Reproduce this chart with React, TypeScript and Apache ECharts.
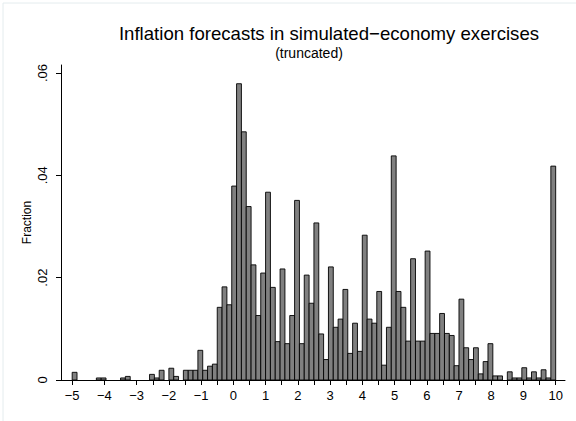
import React, { useEffect, useRef } from 'react';
import * as echarts from 'echarts';

const titleText = 'Inflation forecasts in simulated\u2212economy exercises';
const subtitleText = '(truncated)';
const yTitle = 'Fraction';

const binStart = -5;
const binWidth = 0.15;
const fractions = [
  0.0015, 0, 0, 0, 0, 0.0004, 0.0004, 0, 0, 0,
  0.0004, 0.0007, 0, 0, 0, 0, 0.0011, 0.0004, 0.0019, 0,
  0.0023, 0.0007, 0, 0.0019, 0.0019, 0.0019, 0.0058, 0.0019, 0.0027, 0.0031,
  0.0142, 0.0182, 0.0147, 0.0379, 0.0579, 0.0485, 0.0339, 0.0225, 0.0126, 0.0209,
  0.0367, 0.0181, 0.0075, 0.0217, 0.0071, 0.0126, 0.0351, 0.0071, 0.0205, 0.015,
  0.0307, 0.009, 0.004, 0.0221, 0.0103, 0.0119, 0.0177, 0.0052, 0.0111, 0.0056,
  0.0283, 0.0119, 0.0111, 0.0173, 0.0029, 0.0103, 0.0438, 0.0173, 0.0142, 0.0076,
  0.0237, 0.0076, 0.0076, 0.0252, 0.0091, 0.0091, 0.013, 0.0091, 0.0087, 0.0028,
  0.0158, 0.0063, 0.004, 0.0063, 0.0012, 0.0036, 0.0071, 0.0008, 0.0008, 0,
  0.0016, 0.0004, 0.0004, 0.0024, 0.0004, 0.0016, 0.0004, 0.002, 0.0004, 0.0418,
];

const xMajorTicks = [-5, -4, -3, -2, -1, 0, 1, 2, 3, 4, 5, 6, 7, 8, 9, 10];
const xMinorTicks = [-2.5, -1.5, -0.5, 0.5, 1.5, 2.5, 3.5, 4.5, 5.5, 6.5, 7.5, 8.5, 9.5];
const yTicks = [0, 0.02, 0.04, 0.06];

const FONT = "'Liberation Sans', Arial, Helvetica, sans-serif";

export default function App() {
  const ref = useRef<HTMLDivElement>(null);
  useEffect(() => {
    const chart = echarts.init(ref.current as HTMLDivElement, null, { renderer: 'svg' });
    const data = fractions.map((f, i) => [
      binStart + i * binWidth,
      binStart + (i + 1) * binWidth,
      f,
    ]);
    chart.setOption({
      animation: false,
      backgroundColor: '#ffffff',
      title: [
        {
          text: titleText,
          left: 324,
          top: 19,
          textAlign: 'center',
          textStyle: { fontFamily: FONT, fontSize: 18.6, fontWeight: 'normal', color: '#000' },
        },
        {
          text: subtitleText,
          left: 304,
          top: 41,
          textAlign: 'center',
          textStyle: { fontFamily: FONT, fontSize: 14, fontWeight: 'normal', color: '#000' },
        },
      ],
      graphic: [
        { type: 'line', shape: { x1: 3, y1: 3, x2: 3, y2: 421 }, style: { stroke: '#e4ecee', lineWidth: 1 } },
        { type: 'line', shape: { x1: 3, y1: 3, x2: 576, y2: 3 }, style: { stroke: '#e4ecee', lineWidth: 1 } },
      ],
      grid: { left: 61, right: 11, top: 65, bottom: 41 },
      xAxis: {
        type: 'value',
        min: -5.347,
        max: 10.289,
        splitLine: { show: false },
        axisLine: { show: true, onZero: false, lineStyle: { color: '#000', width: 1 } },
        axisTick: {
          show: true,
          length: 5,
          lineStyle: { color: '#000', width: 1 },
          customValues: [...xMajorTicks, ...xMinorTicks],
        },
        axisLabel: {
          customValues: xMajorTicks,
          margin: 9,
          fontFamily: FONT,
          fontSize: 13,
          color: '#000',
          formatter: (v: number) => String(v).replace('-', '\u2212'),
        },
      },
      yAxis: {
        type: 'value',
        min: 0,
        max: 0.06156,
        name: yTitle,
        nameLocation: 'middle',
        nameRotate: 90,
        nameGap: 28,
        nameMoveOverlap: false,
        nameTextStyle: { fontFamily: FONT, fontSize: 12, color: '#000' },
        splitLine: { show: false },
        axisLine: { show: true, onZero: false, lineStyle: { color: '#000', width: 1 } },
        axisTick: {
          show: true,
          length: 5,
          lineStyle: { color: '#000', width: 1 },
          customValues: yTicks,
        },
        axisLabel: {
          customValues: yTicks,
          rotate: 90,
          margin: 12,
          fontFamily: FONT,
          fontSize: 13,
          color: '#000',
          formatter: (v: number) => (v === 0 ? '0' : v.toFixed(2).replace(/^0/, '')),
        },
      },
      series: [
        {
          type: 'custom',
          data,
          encode: { x: [0, 1], y: 2 },
          renderItem: (params: any, api: any) => {
            const x0 = api.value(0);
            const x1 = api.value(1);
            const y = api.value(2);
            if (!y) return null;
            const pTop = api.coord([x0, y]);
            const pBot = api.coord([x1, 0]);
            return {
              type: 'rect',
              shape: {
                x: pTop[0],
                y: pTop[1],
                width: pBot[0] - pTop[0],
                height: pBot[1] - pTop[1],
              },
              style: { fill: '#808080', stroke: '#000', lineWidth: 0.9 },
            };
          },
        },
      ],
    });
    return () => chart.dispose();
  }, []);
  return (
    <div
      ref={ref}
      style={{ position: 'fixed', left: 0, top: 0, width: 576, height: 421, background: '#fff' }}
    />
  );
}
